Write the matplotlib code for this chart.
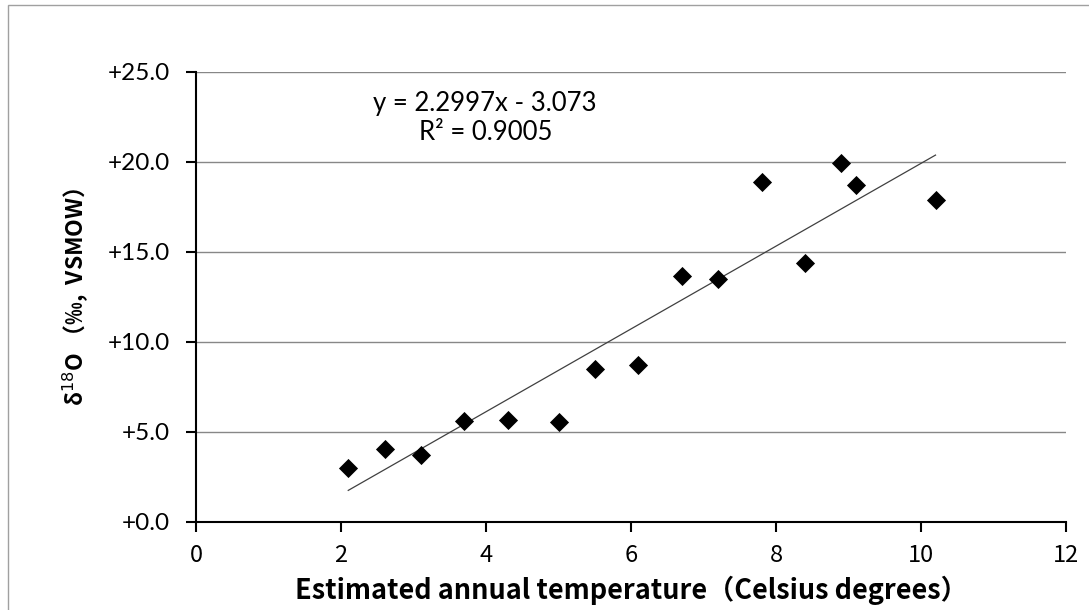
import numpy as np
import matplotlib.pyplot as plt
from matplotlib.patches import Rectangle

# estimated annual temperature (deg C) vs d18O (permil, VSMOW)
temperature = [2.1, 2.6, 3.1, 3.7, 4.3, 5.0, 5.5, 6.1, 6.7, 7.2, 7.8, 8.4, 8.9, 9.1, 10.2]
d18o = [3.0, 4.05, 3.7, 5.6, 5.67, 5.55, 8.5, 8.7, 13.67, 13.5, 18.9, 14.4, 19.94, 18.7, 17.9]

# linear trendline as printed on the chart
slope = 2.2997
intercept = -3.073
r_squared = 0.9005

x_ticks = [0, 2, 4, 6, 8, 10, 12]
y_ticks = [0, 5, 10, 15, 20, 25]

CJK = ['Noto Sans CJK JP', 'DejaVu Sans']

fig = plt.figure(figsize=(10.89, 6.10), dpi=100)
ax = fig.add_axes([196 / 1089, 1 - 522 / 610, 870 / 1089, 450 / 610])

# light frame of the chart area (only top/left visible in the original crop)
fig.patches.append(Rectangle((8 / 1089, -0.05), 1.2, (605 / 610) + 0.05,
                             transform=fig.transFigure, fill=False,
                             edgecolor='#a0a0a0', linewidth=1.0))

for yv in y_ticks[1:]:
    ax.axhline(yv, color='#878787', linewidth=1.0, zorder=1)

ax.scatter(temperature, d18o, marker='D', s=95, color='black', zorder=3, linewidths=0)

xs = np.array([min(temperature), max(temperature)])
ax.plot(xs, slope * xs + intercept, color='#404040', linewidth=0.9, zorder=2)

ax.set_xlim(0, 12)
ax.set_ylim(0, 25)
ax.set_xticks(x_ticks)
ax.set_yticks(y_ticks)
ax.set_yticklabels([f'+{v:.1f}' for v in y_ticks], family='Lato', fontsize=17.5)
ax.set_xticklabels([str(v) for v in x_ticks], family=CJK, fontsize=17)

for side in ['top', 'right']:
    ax.spines[side].set_visible(False)
for side in ['left', 'bottom']:
    ax.spines[side].set_linewidth(1.5)
    ax.spines[side].set_color('black')
ax.tick_params(axis='both', direction='out', length=7, width=1.5, color='black')
ax.tick_params(axis='y', pad=12)
ax.tick_params(axis='x', pad=9)

ax.set_xlabel('Estimated annual temperature（Celsius degrees）', family=CJK,
              fontsize=19.5, fontweight='bold', labelpad=6)
ax.set_ylabel('δ$^{18}$O （‰,  VSMOW）', family=CJK, fontsize=16.5,
              fontweight='bold', labelpad=12)

ax.text(485 / 1089, 1 - 103 / 610, f'y = {slope}x - {abs(intercept)}',
        transform=fig.transFigure, ha='center', va='center', family='Lato', fontsize=18.5)
ax.text(486 / 1089, 1 - 133 / 610, f'R² = {r_squared}',
        transform=fig.transFigure, ha='center', va='center', family='Lato', fontsize=18.5)

fig.savefig('out.png', dpi=100)
